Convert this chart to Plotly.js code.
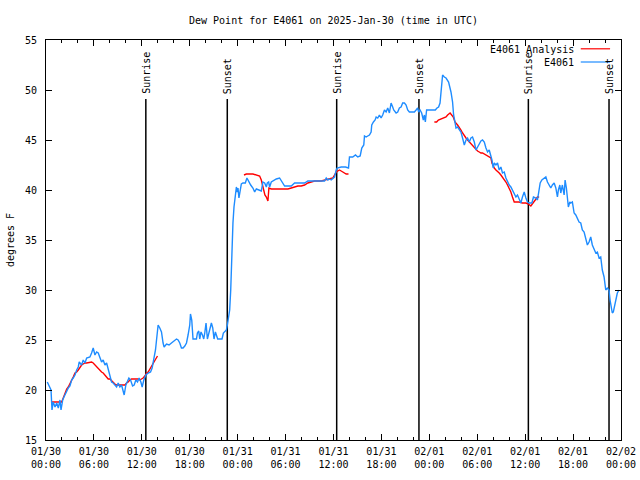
<!DOCTYPE html>
<html>
<head>
<meta charset="utf-8">
<script src="https://cdn.plot.ly/plotly-3.0.1.min.js"></script>
<style>html,body{margin:0;padding:0;background:#fff;}#chart{width:640px;height:480px;}</style>
</head>
<body>
<div id="chart"></div>
<script>
// Hours since 2025-01-30 00:00 UTC
const obsHours = [0.16,0.41,0.63,0.75,0.91,1.13,1.34,1.54,1.75,1.88,2.09,2.25,2.5,2.79,3.0,3.21,3.41,3.63,3.84,4.04,4.16,4.46,4.66,4.88,5.09,5.5,5.71,5.91,6.13,6.34,6.54,6.75,6.96,7.16,7.38,7.59,7.79,8.0,8.21,8.41,8.63,8.84,9.04,9.25,9.46,9.66,9.79,10.0,10.16,10.38,10.59,10.84,11.04,11.25,11.46,11.66,11.88,12.04,12.25,12.5,12.79,13.09,13.29,13.5,13.71,13.84,14.04,14.25,14.46,14.66,14.79,15.09,15.41,15.71,16.0,16.34,16.54,16.75,16.96,17.16,17.38,17.59,17.79,18.0,18.09,18.25,18.41,18.63,18.84,18.96,19.13,19.25,19.41,19.59,19.75,19.88,20.04,20.21,20.38,20.54,20.71,20.88,21.04,21.21,21.34,21.5,21.75,22.04,22.21,22.38,22.59,22.71,22.88,23.0,23.13,23.29,23.41,23.54,23.71,23.84,23.96,24.04,24.16,24.34,24.46,24.66,24.96,25.16,25.38,25.63,25.91,26.13,26.34,26.66,26.96,27.16,27.38,27.59,27.71,27.88,28.0,28.21,28.41,28.84,29.25,29.46,29.66,29.88,30.71,30.91,31.13,32.38,32.59,32.79,34.88,35.09,35.29,35.5,35.71,35.91,36.13,36.34,36.46,36.96,37.5,37.88,38.0,38.41,38.75,39.04,39.34,39.54,39.79,39.88,40.09,40.29,40.5,40.71,40.79,41.0,41.21,41.34,41.54,41.75,41.96,42.16,42.38,42.59,42.79,43.0,43.21,43.41,43.54,43.84,44.04,44.25,44.46,44.66,44.88,45.09,45.29,45.5,46.13,46.34,46.54,46.66,46.84,47.04,47.25,47.38,47.5,47.66,48.75,48.96,49.16,49.34,49.54,49.66,49.88,50.09,50.41,50.71,50.91,51.04,51.21,51.34,51.54,51.75,51.96,52.16,52.38,52.59,52.79,53.0,53.21,53.41,53.63,53.84,54.04,54.25,54.46,54.66,54.88,55.09,55.29,55.5,55.71,55.84,56.0,56.13,56.34,56.54,56.75,56.96,57.16,57.38,57.59,57.79,58.0,58.21,58.41,58.63,58.84,59.04,59.25,59.46,59.66,59.88,60.09,60.29,60.5,60.84,61.04,61.34,61.54,61.75,61.88,62.09,62.38,62.59,62.79,63.0,63.21,63.41,63.63,63.84,64.04,64.16,64.34,64.46,64.66,64.88,65.0,65.16,65.29,65.41,65.59,65.71,65.91,66.13,66.34,66.54,66.75,66.96,67.16,67.38,67.59,67.79,68.0,68.21,68.41,68.63,68.84,69.04,69.25,69.46,69.66,69.88,70.09,70.29,70.5,70.63,70.79,70.91,71.04,71.21,71.34,71.54,71.75];
const obsDew = [20.8,20.4,20.0,18.0,18.8,18.3,18.7,18.2,19.0,18.0,19.0,19.3,19.8,20.2,20.4,21.0,21.2,21.5,22.0,22.3,22.8,22.5,23.0,22.7,23.2,23.3,23.7,24.2,23.5,23.8,23.7,23.2,22.8,23.0,22.5,22.7,22.0,21.5,20.8,20.7,20.5,20.3,20.7,20.3,20.5,20.0,19.5,20.5,20.8,21.2,21.0,20.4,20.5,21.0,20.8,21.2,20.8,20.3,21.0,21.5,21.7,21.8,22.2,23.0,24.0,25.0,26.5,26.2,25.8,24.7,24.3,24.6,24.5,24.7,24.9,25.1,25.0,24.7,24.2,24.2,24.4,24.7,25.5,26.5,27.6,27.0,25.1,25.1,25.1,25.7,25.9,25.1,25.8,25.5,25.1,25.7,26.7,25.1,25.7,26.0,26.7,26.2,25.1,25.8,25.5,25.1,25.1,25.1,25.7,25.8,26.0,26.5,27.2,28.0,30.0,34.3,36.7,38.3,39.7,40.3,39.8,40.2,39.2,40.0,40.6,40.7,40.7,41.2,40.8,40.5,40.2,39.8,40.1,40.0,39.9,40.8,40.7,40.3,40.7,40.8,40.3,40.8,40.9,41.1,41.2,40.9,40.7,40.4,40.4,40.6,40.7,40.7,40.8,40.9,40.9,41.2,41.0,41.1,41.0,41.2,41.3,42.0,42.2,42.3,42.3,42.2,43.3,43.3,43.5,43.3,43.4,44.2,44.5,45.4,45.3,45.4,45.5,45.8,46.5,46.8,47.0,47.3,47.2,47.5,47.2,47.5,48.0,47.8,48.2,47.7,48.7,48.3,48.0,47.7,47.8,48.2,48.3,48.7,48.7,48.5,48.0,47.8,47.8,48.0,48.2,47.8,48.0,47.7,47.0,47.5,46.8,48.0,48.0,48.2,48.3,48.7,50.3,51.5,51.3,51.2,50.8,49.8,48.8,47.5,46.8,46.2,46.3,46.0,45.8,45.2,44.5,45.0,45.2,44.8,45.2,45.3,44.8,44.0,44.3,44.7,44.9,45.0,44.8,44.2,43.8,44.0,43.5,43.0,42.2,42.7,42.5,42.7,42.0,42.3,41.7,41.8,41.2,40.8,40.5,40.3,40.0,39.7,39.3,39.5,39.0,38.7,39.3,39.8,39.2,38.8,38.7,38.7,39.3,39.2,39.0,40.2,40.7,41.0,41.2,41.3,40.8,40.5,40.2,40.5,40.7,40.2,39.3,40.0,40.5,39.7,40.5,39.5,41.0,40.2,39.3,38.3,38.8,38.7,38.8,37.7,37.5,37.2,36.8,36.7,36.0,35.8,35.2,34.5,34.8,35.3,34.5,34.0,33.7,33.8,33.2,33.3,32.0,31.3,30.0,30.2,30.0,29.0,28.2,27.7,27.8,28.5,29.2,29.7,30.0];

// Analysis series (null = gap between analysis runs)
const anaHours = [0.75,1.13,1.75,1.96,2.16,2.38,2.59,2.79,3.0,3.21,3.41,3.63,3.84,4.04,4.25,4.46,4.66,4.88,5.09,5.5,5.71,5.91,6.13,6.34,6.54,6.75,6.96,7.16,7.38,7.59,7.79,8.0,8.21,8.41,8.63,8.84,9.88,10.09,10.29,10.5,10.71,11.54,11.75,11.96,12.16,12.38,12.59,12.79,13.0,13.21,13.41,13.63,13.84,13.96,
  18.0,
  24.79,25.09,25.91,26.34,26.75,26.96,27.09,27.25,27.41,27.59,27.71,27.79,27.91,28.21,29.88,30.29,30.71,31.13,31.54,31.96,32.38,32.79,33.21,33.63,34.46,34.88,35.29,35.71,35.91,36.13,36.34,36.54,36.75,36.96,37.16,37.38,37.59,37.88,
  42.0,
  48.63,48.91,49.13,49.46,49.75,50.09,50.29,50.6,51.0,51.21,51.54,51.75,51.96,52.16,52.38,52.59,52.79,53.0,53.21,53.41,53.63,53.84,54.04,54.25,54.46,54.66,54.88,55.09,55.29,55.5,55.71,55.84,56.0,56.13,56.34,56.54,56.75,56.96,57.16,57.38,57.59,57.79,58.0,58.21,58.41,58.63,59.25,59.66,60.09,60.41,60.71,60.91,61.13,61.34,61.54,61.75];
const anaDew = [18.8,18.8,18.8,18.8,19.2,19.7,20.1,20.3,20.7,21.0,21.3,21.7,21.8,22.0,22.3,22.5,22.6,22.7,22.7,22.8,22.8,22.7,22.5,22.3,22.2,22.0,21.8,21.7,21.5,21.3,21.1,21.1,20.9,20.7,20.6,20.5,20.5,20.7,20.8,21.0,21.1,21.1,21.0,21.1,21.2,21.4,21.7,21.8,22.1,22.3,22.7,23.0,23.3,23.4,
  null,
  41.5,41.6,41.6,41.5,41.4,41.0,40.5,40.0,39.5,39.3,39.0,38.9,40.2,40.1,40.1,40.1,40.2,40.3,40.4,40.4,40.5,40.7,40.8,40.9,40.9,41.0,41.1,41.2,41.2,41.5,41.8,41.9,42.0,41.9,41.8,41.7,41.6,41.6,
  null,
  46.8,46.8,47.0,47.1,47.2,47.3,47.5,47.7,47.3,46.8,46.5,46.3,46.0,45.7,45.5,45.2,45.0,44.8,44.7,44.5,44.2,44.0,43.9,43.8,43.7,43.7,43.6,43.5,43.4,43.3,43.2,42.7,42.3,42.2,42.0,41.8,41.7,41.5,41.3,41.1,40.8,40.5,40.2,39.8,39.3,38.8,38.8,38.7,38.7,38.6,38.4,38.6,38.8,39.1,39.3,39.3];

const sunHours = [12.5, 22.7, 36.4, 46.7, 60.4, 70.5];
const sunLabels = ["Sunrise", "Sunset", "Sunrise", "Sunset", "Sunrise", "Sunset"];

const tickHours = [0,6,12,18,24,30,36,42,48,54,60,66,72];
const tickLabels = ["01/30<br>00:00","01/30<br>06:00","01/30<br>12:00","01/30<br>18:00","01/31<br>00:00","01/31<br>06:00","01/31<br>12:00","01/31<br>18:00","02/01<br>00:00","02/01<br>06:00","02/01<br>12:00","02/01<br>18:00","02/02<br>00:00"];

const seriesNames = ["E4061 Analysis", "E4061"];
const seriesColors = ["#ff0000", "#1e8cff"];

const FONT = "DejaVu Sans Mono, monospace";
const Y_MIN = 15, Y_MAX = 55, SUN_TOP = 49.1;

const traces = [];
sunHours.forEach((h) => {
  traces.push({x: [h, h], y: [Y_MIN, SUN_TOP], mode: "lines", line: {color: "#000", width: 1.5}, showlegend: false, hoverinfo: "skip"});
});
traces.push({x: anaHours, y: anaDew, mode: "lines", name: seriesNames[0], line: {color: seriesColors[0], width: 1.4}, connectgaps: false, showlegend: false});
traces.push({x: obsHours, y: obsDew, mode: "lines", name: seriesNames[1], line: {color: seriesColors[1], width: 1.4}, showlegend: false});

const annotations = sunHours.map((h, i) => ({
  x: h, y: 49.4, xref: "x", yref: "y", text: sunLabels[i], textangle: -90,
  showarrow: false, xanchor: "center", yanchor: "bottom", font: {family: FONT, size: 10, color: "#000"}
}));

// manual gnuplot-style key (text on left, sample line on right)
const keyY = [0.976, 0.943];
const shapes = [];
seriesNames.forEach((n, i) => {
  annotations.push({x: 0.921, y: keyY[i], xref: "paper", yref: "paper", text: n, showarrow: false,
    xanchor: "right", yanchor: "middle", font: {family: FONT, size: 10, color: "#000"}});
  shapes.push({type: "line", xref: "paper", yref: "paper", x0: 0.93, x1: 0.981, y0: keyY[i] + 0.002, y1: keyY[i] + 0.002,
    line: {color: seriesColors[i], width: 1.2}});
});

const layout = {
  width: 640, height: 480,
  margin: {l: 46, r: 19, t: 40, b: 40, pad: 0},
  paper_bgcolor: "#fff", plot_bgcolor: "#fff",
  font: {family: FONT, size: 10, color: "#000"},
  title: {text: "Dew Point for E4061 on 2025-Jan-30 (time in UTC)", x: 0.5, xref: "paper", xanchor: "center",
    y: 0.958, yref: "container", yanchor: "middle", font: {family: FONT, size: 10, color: "#000"}},
  xaxis: {range: [0, 72], tickvals: tickHours, ticktext: tickLabels, ticks: "inside", ticklen: 6, tickcolor: "#000",
    minor: {dtick: 2, tick0: 0, ticks: "inside", ticklen: 3, tickcolor: "#000"},
    showline: true, linecolor: "#000", linewidth: 1, mirror: "ticks", showgrid: false, zeroline: false,
    tickfont: {family: FONT, size: 10, color: "#000"}, ticklabelstandoff: 2},
  yaxis: {range: [Y_MIN, Y_MAX], dtick: 5, tick0: 15, ticks: "inside", ticklen: 6, tickcolor: "#000",
    showline: true, linecolor: "#000", linewidth: 1, mirror: "ticks", showgrid: false, zeroline: false,
    tickfont: {family: FONT, size: 10, color: "#000"}, ticklabelstandoff: 6,
    title: {text: "degrees F", font: {family: FONT, size: 10, color: "#000"}, standoff: 8}},
  annotations: annotations,
  shapes: shapes,
  showlegend: false
};

Plotly.newPlot("chart", traces, layout, {displayModeBar: false, staticPlot: true});
</script>
</body>
</html>
